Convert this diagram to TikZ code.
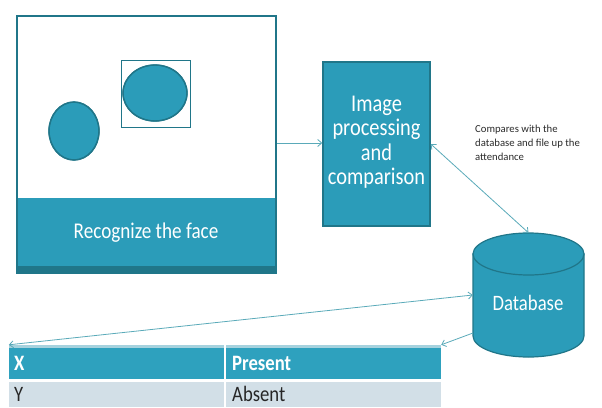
\documentclass[tikz,border=0pt]{standalone}
\usepackage{fontspec}
\setmainfont{Carlito}
\newfontfamily\condfont[FakeStretch=0.85]{Carlito}
\usetikzlibrary{arrows.meta,calc}
\definecolor{tealfill}{HTML}{2B9CB9}
\definecolor{tealdark}{HTML}{207689}
\definecolor{arrowc}{HTML}{5AAAB9}
\definecolor{rowc}{HTML}{D2DFE7}
\definecolor{hdrc}{HTML}{2EA1BE}
\definecolor{hdrtop}{HTML}{A6D2DE}
\definecolor{notec}{HTML}{2A2A2A}
\begin{document}
\begin{tikzpicture}[x=1pt,y=-1pt,
  conn/.style={draw=arrowc, line width=0.8pt, -{Straight Barb[length=4pt,width=7pt]}},
  dconn/.style={draw=arrowc, line width=0.8pt, {Straight Barb[length=4pt,width=7pt]}-{Straight Barb[length=4pt,width=7pt]}},
  whitetxt/.style={text=white, inner sep=0pt},
  facefill/.style={fill=tealfill, draw=tealdark, line width=1.2pt}
]
\useasboundingbox (0,0) rectangle (602,407);
% frame
\node[draw=tealdark, line width=2.5pt, fill=white, minimum width=259pt, minimum height=257pt, inner sep=0pt] (frame) at (146.5,144.5) {};
\fill[tealfill] (18,198) rectangle (275,266);
\fill[tealdark] (17,266) rectangle (276,273);
\node[whitetxt, font=\condfont\fontsize{22.5}{26}\selectfont] (rec) at (146,233) {Recognize the face};
% faces
\node[draw=tealdark, line width=1.8pt, fill=white, minimum width=69pt, minimum height=67pt, inner sep=0pt] (sq) at (156,94) {};
\fill[facefill] (155,93) ellipse [x radius=32, y radius=28];
\fill[facefill] (74,131) ellipse [x radius=25, y radius=29];
\draw[tealdark, line width=1.4pt] (155,93) ellipse [x radius=32, y radius=28];
\draw[tealdark, line width=1.4pt] (74,131) ellipse [x radius=25, y radius=29];
% process box
\node[fill=tealfill, draw=tealdark, line width=1.5pt, minimum width=107pt, minimum height=164pt, inner sep=0pt] (proc) at (376.5,144) {};
\node[whitetxt, align=center, font=\condfont\fontsize{24}{24.5}\selectfont] (proctxt) at (376.5,142) {Image\\processing\\and\\comparison};
% database
\node[minimum width=111pt, minimum height=124pt, inner sep=0pt] (db) at (528.5,295) {};
\fill[tealfill, draw=tealdark, line width=1.2pt] (473,254) -- (473,336) arc[start angle=180, end angle=0, x radius=55.5, y radius=21] -- (584,254) -- cycle;
\fill[tealfill, draw=tealdark, line width=1.2pt] (528.5,254) ellipse [x radius=55.5, y radius=21];
\node[whitetxt, font=\condfont\fontsize{22}{26}\selectfont] (dbtxt) at (528,303) {Database};
% note
\node[anchor=north west, inner sep=0pt, align=left, text=notec, font=\fontsize{10.7}{14}\selectfont] (note) at (475,125) {Compares with the\\database and file up the\\attendance};
% table
\node[minimum width=432pt, minimum height=62pt, inner sep=0pt] (table) at (225,376) {};
\fill[hdrtop] (9,345) rectangle (441,348);
\fill[hdrc] (9,348) rectangle (441,379);
\fill[rowc] (9,382) rectangle (441,407);
\draw[white, line width=1.5pt] (225,345) -- (225,407);
\node[anchor=west, whitetxt, font=\condfont\fontsize{22}{26}\selectfont\bfseries] (cx) at (14,363) {X};
\node[anchor=west, whitetxt, font=\condfont\fontsize{22}{26}\selectfont\bfseries] (cp) at (232,363) {Present};
\node[anchor=west, inner sep=0pt, text=black!85, font=\condfont\fontsize{22}{26}\selectfont] (cy) at (14,394) {Y};
\node[anchor=west, inner sep=0pt, text=black!85, font=\condfont\fontsize{22}{26}\selectfont] (ca) at (232,394) {Absent};
% connectors
\coordinate (dbl) at (473,333);
\draw[conn] (frame.east |- 0,143) -- (proc.west |- 0,143);
\draw[dconn] (proc.east) -- (db.north);
\draw[dconn] (table.north west) -- (db.west);
\draw[conn] (dbl) -- (table.north east);
\end{tikzpicture}
\end{document}
